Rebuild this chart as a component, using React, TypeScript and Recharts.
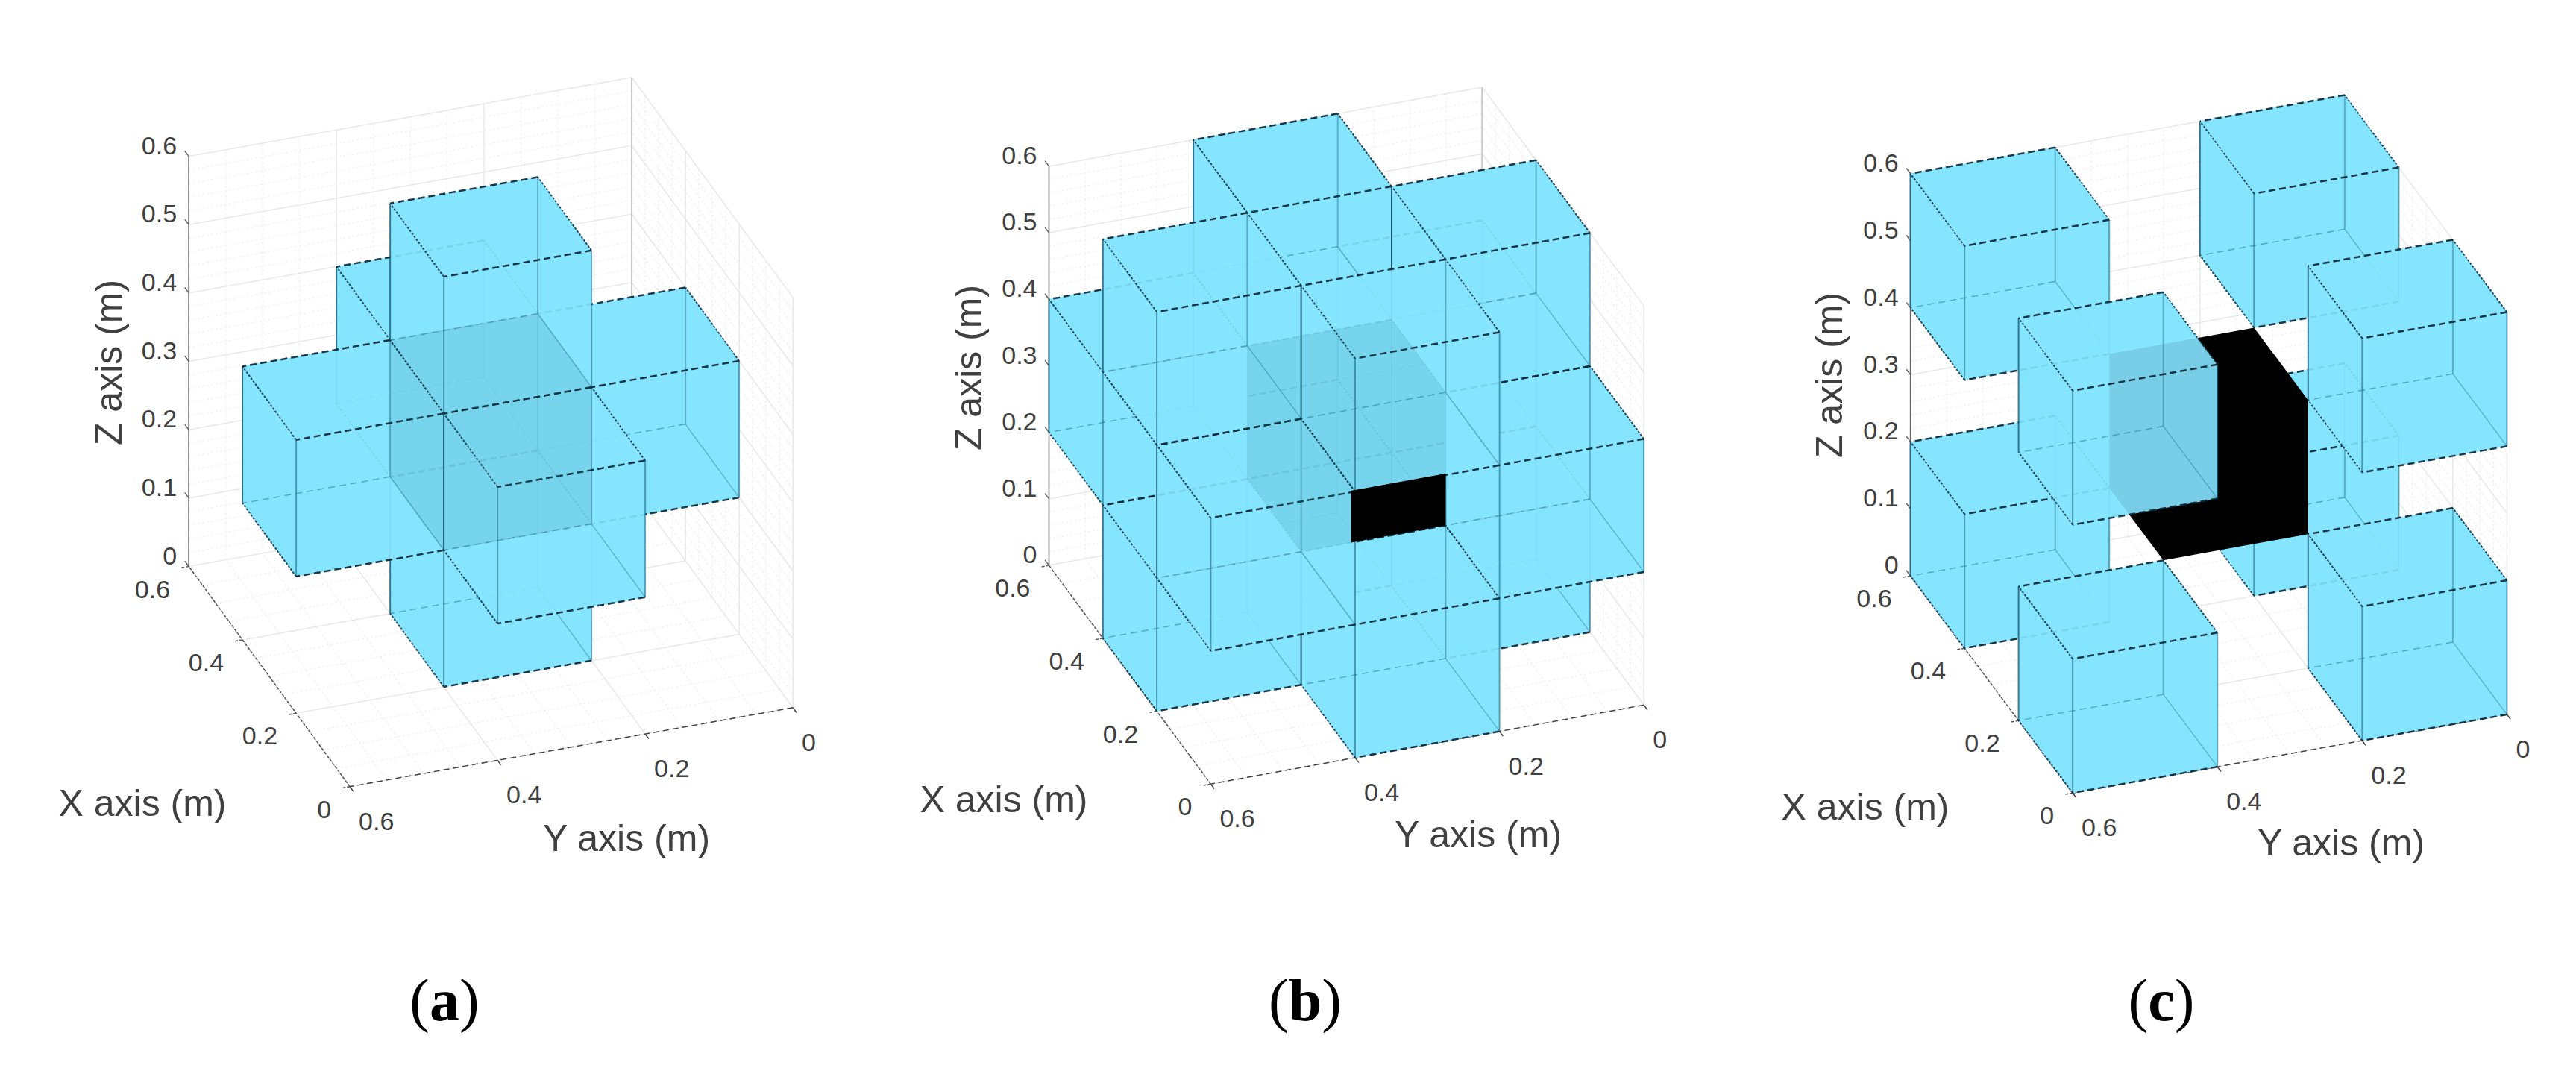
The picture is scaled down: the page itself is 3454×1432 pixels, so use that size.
import { ComposedChart, Line, XAxis, YAxis, LabelList } from 'recharts';

type Vec3 = [number, number, number];

// lower corner of each 0.2 m cube, metres
const CROSS_VOXELS: Vec3[] = [
  [0.2, 0.2, 0], [0.4, 0.2, 0.2], [0.2, 0.4, 0.2], [0.2, 0, 0.2], [0, 0.2, 0.2], [0.2, 0.2, 0.4],
];
const EDGE_VOXELS: Vec3[] = [
  [0.4, 0.2, 0], [0.2, 0.4, 0], [0.2, 0, 0], [0, 0.2, 0],
  [0.4, 0.4, 0.2], [0.4, 0, 0.2], [0, 0.4, 0.2], [0, 0, 0.2],
  [0.4, 0.2, 0.4], [0.2, 0.4, 0.4], [0.2, 0, 0.4], [0, 0.2, 0.4],
];
const CORNER_BACK_VOXELS: Vec3[] = [[0.4, 0, 0], [0.4, 0.4, 0], [0.4, 0, 0.4], [0.4, 0.4, 0.4]];
const CORNER_FRONT_VOXELS: Vec3[] = [[0, 0, 0], [0, 0.4, 0], [0, 0, 0.4], [0, 0.4, 0.4]];

const CENTER_VOXEL: Vec3 = [0.2, 0.2, 0.2];
const B_BLACK_FACE: Vec3[] = [[0.2, 0.2, 0.2], [0.2, 0.2, 0.278], [0.2, 0.331, 0.278], [0.2, 0.331, 0.2]];

const Z_TICKS = [0, 0.1, 0.2, 0.3, 0.4, 0.5, 0.6];
const Z_TICK_LABELS = ['0', '0.1', '0.2', '0.3', '0.4', '0.5', '0.6'];
const XY_TICKS = [0, 0.2, 0.4, 0.6];
const XY_TICK_LABELS = ['0', '0.2', '0.4', '0.6'];

const CYAN = '#85e4ff';
const TEXT = '#404040';
const SANS = '"Liberation Sans", Arial, sans-serif';

const W = 3454;
const H = 1432;

type View = {
  origin: [number, number];
  ex: [number, number];
  ey: [number, number];
  ez: number;
  titles: { x: [number, number]; y: [number, number]; z: [number, number] };
  letter: string;
  letterX: number;
};

const VIEW_A: View = {
  origin: [1063.1, 948.8], ex: [-360, -492], ey: [-990, 176.5], ez: -916.5,
  titles: { x: [191, 1077], y: [840, 1124], z: [146, 486] }, letter: 'a', letterX: 596,
};
const VIEW_B: View = {
  origin: [2204.2, 945.3], ex: [-361.5, -488.5], ey: [-968, 176.5], ez: -892,
  titles: { x: [1346, 1072], y: [1982, 1119], z: [1299, 493] }, letter: 'b', letterX: 1750,
};
const VIEW_C: View = {
  origin: [3361.4, 957.9], ex: [-362.5, -485], ey: [-970.5, 175.5], ez: -899,
  titles: { x: [2501, 1082], y: [3139, 1130], z: [2453, 503] }, letter: 'c', letterX: 2898,
};

const project = (v: View, [x, y, z]: Vec3) => ({
  px: v.origin[0] + x * v.ex[0] + y * v.ey[0],
  py: v.origin[1] + x * v.ex[1] + y * v.ey[1] + z * v.ez,
});

const hexOf = ([x, y, z]: Vec3, s = 0.2): Vec3[] => [
  [x + s, y + s, z + s], [x + s, y, z + s], [x, y, z + s], [x, y, z], [x, y + s, z], [x + s, y + s, z],
];

// segments joined into one series, broken with null rows
const segments = (v: View, pairs: [Vec3, Vec3][]) =>
  pairs.flatMap(([a, b]) => {
    const p = project(v, a);
    const q = project(v, b);
    return [p, q, { px: q.px, py: null as unknown as number }];
  });

// dots paint above every curve, so shapes that must stack in order all go through the dot of the first row
const polyDot = (fill: string, opacity: number) => (p: any) =>
  p.index === 0 ? (
    <polygon
      key="poly"
      points={p.points.map((q: any) => `${q.x},${q.y}`).join(' ')}
      fill={fill}
      fillOpacity={opacity}
      stroke="none"
    />
  ) : (
    <g key={p.index} />
  );

const pathDot = (stroke: string, width: number, dash?: string, opacity = 1) => (p: any) => {
  if (p.index !== 0) return <g key={p.index} />;
  let d = '';
  let pen = false;
  p.points.forEach((q: any) => {
    if (q.y == null) {
      pen = false;
      return;
    }
    d += `${pen ? 'L' : 'M'}${q.x} ${q.y}`;
    pen = true;
  });
  return (
    <path key="edges" d={d} fill="none" stroke={stroke} strokeWidth={width} strokeDasharray={dash} strokeOpacity={opacity} />
  );
};

const polygon = (key: string, v: View, verts: Vec3[], fill: string, opacity = 1) => (
  <Line
    key={key}
    data={verts.map((c) => project(v, c))}
    dataKey="py"
    stroke="none"
    dot={polyDot(fill, opacity)}
    activeDot={false}
    isAnimationActive={false}
  />
);

const lines = (
  key: string,
  v: View,
  pairs: [Vec3, Vec3][],
  stroke: string,
  width: number,
  dash?: string,
  opacity = 1,
) => (
  <Line
    key={key}
    data={segments(v, pairs)}
    dataKey="py"
    stroke="none"
    dot={pathDot(stroke, width, dash, opacity)}
    activeDot={false}
    isAnimationActive={false}
  />
);

type TextRow = { px: number; py: number; text: string };

const texts = (
  key: string,
  rows: TextRow[],
  size: number,
  anchor: 'start' | 'middle' | 'end',
  angle = 0,
) => (
  <Line key={key} data={rows} dataKey="py" stroke="none" dot={false} activeDot={false} isAnimationActive={false}>
    <LabelList
      dataKey="text"
      content={(p: any) => (
        <text
          x={p.x}
          y={p.y}
          fontSize={size}
          fontFamily={SANS}
          fill={TEXT}
          textAnchor={anchor}
          dominantBaseline="central"
          transform={angle ? `rotate(${angle} ${p.x} ${p.y})` : undefined}
        >
          {p.value}
        </text>
      )}
    />
  </Line>
);

// one voxel: veil over what lies behind it, then its own edges
const voxel = (key: string, v: View, [x, y, z]: Vec3) => {
  const s = 0.2;
  const X = x + s;
  const Y = y + s;
  const Z = z + s;
  const hiddenY: [Vec3, Vec3][] = [[[X, y, z], [X, Y, z]]];
  const hiddenX: [Vec3, Vec3][] = [[[x, y, z], [X, y, z]]];
  const dashY: [Vec3, Vec3][] = [[[x, y, Z], [x, Y, Z]], [[X, y, Z], [X, Y, Z]], [[x, y, z], [x, Y, z]]];
  const dashX: [Vec3, Vec3][] = [[[x, y, Z], [X, y, Z]], [[x, Y, Z], [X, Y, Z]], [[x, Y, z], [X, Y, z]]];
  return [
    polygon(`${key}-veil`, v, hexOf([x, y, z]), CYAN, 0.9),
    lines(`${key}-hy`, v, hiddenY, '#1f6f8c', 1.5, '9 6', 0.5),
    lines(`${key}-hx`, v, hiddenX, '#1f6f8c', 1.5, undefined, 0.4),
    lines(`${key}-vb`, v, [[[X, y, z], [X, y, Z]]], '#1f6f8c', 2, undefined, 0.45),
    lines(`${key}-vm`, v, [[[x, Y, z], [x, Y, Z]], [[x, y, z], [x, y, Z]]], '#0f5f7c', 2, undefined, 0.55),
    lines(`${key}-vl`, v, [[[X, Y, z], [X, Y, Z]]], '#0a4560', 2, undefined, 0.7),
    lines(`${key}-dx`, v, dashX, '#0e2f3f', 2, '3 2', 0.85),
    lines(`${key}-dy`, v, dashY, '#0b2430', 2.5, '9 5', 0.9),
  ];
};

// painted far to near: the camera sits at low x, high y, high z
const stack = (key: string, v: View, vox: Vec3[]) =>
  [...vox]
    .sort((a, b) => -a[0] + a[1] + a[2] - (-b[0] + b[1] + b[2]))
    .flatMap((c) => voxel(`${key}-${c.join('_')}`, v, c));

const box = (v: View) => {
  const major: [Vec3, Vec3][] = [];
  const minor: [Vec3, Vec3][] = [];
  for (let i = 0; i <= 30; i++) {
    const z = i * 0.02;
    const list = i % 5 === 0 ? major : minor;
    list.push([[0.6, 0, z], [0.6, 0.6, z]], [[0, 0, z], [0.6, 0, z]]);
  }
  for (let i = 0; i <= 12; i++) {
    const t = i * 0.05;
    const list = i % 4 === 0 ? major : minor;
    list.push([[t, 0, 0], [t, 0, 0.6]], [[0, t, 0], [0.6, t, 0]]);
    list.push([[0.6, t, 0], [0.6, t, 0.6]], [[t, 0, 0], [t, 0.6, 0]]);
  }
  const zTicks: [Vec3, Vec3][] = Z_TICKS.map((t) => [[0.6, 0.6, t], [0.615, 0.6, t]]);
  const xTicks: [Vec3, Vec3][] = XY_TICKS.map((t) => [[t, 0.6, 0], [t, 0.612, 0]]);
  const yTicks: [Vec3, Vec3][] = XY_TICKS.map((t) => [[0, t, 0], [-0.014, t, 0]]);
  const k = v.letter;
  return [
    lines(`${k}-minor`, v, minor, '#f2f2f2', 1.5, '3 3'),
    lines(`${k}-major`, v, major, '#e8e8e8', 1.5),
    lines(`${k}-corner`, v, [[[0.6, 0, 0], [0.6, 0, 0.6]]], '#c8c8c8', 2),
    lines(`${k}-zaxis`, v, [[[0.6, 0.6, 0], [0.6, 0.6, 0.6]], ...zTicks], '#666666', 1.5),
    lines(`${k}-xaxis`, v, [[[0, 0.6, 0], [0.6, 0.6, 0]], ...xTicks], '#555555', 1.5, '4 2'),
    lines(`${k}-yaxis`, v, [[[0, 0, 0], [0, 0.6, 0]], ...yTicks], '#444444', 1.5, '8 5'),
  ];
};

const axisText = (v: View) => {
  const k = v.letter;
  const zRows = Z_TICKS.map((t, i) => {
    const p = project(v, [0.6, 0.6, t]);
    return { px: p.px - 16, py: p.py - 15, text: Z_TICK_LABELS[i] };
  });
  const xRows = XY_TICKS.map((t, i) => {
    const p = project(v, [t, 0.6, 0]);
    return { px: p.px - 25, py: p.py + 30, text: XY_TICK_LABELS[i] };
  });
  const yRows = XY_TICKS.map((t, i) => {
    const p = project(v, [0, t, 0]);
    return { px: p.px + 12, py: p.py + 46, text: XY_TICK_LABELS[i] };
  });
  const at = ([px, py]: [number, number], text: string) => [{ px, py, text }];
  return [
    texts(`${k}-tz`, zRows, 34, 'end'),
    texts(`${k}-tx`, xRows, 34, 'end'),
    texts(`${k}-ty`, yRows, 34, 'start'),
    texts(`${k}-lx`, at(v.titles.x, 'X axis (m)'), 50, 'middle'),
    texts(`${k}-ly`, at(v.titles.y, 'Y axis (m)'), 50, 'middle'),
    texts(`${k}-lz`, at(v.titles.z, 'Z axis (m)'), 50, 'middle', -90),
  ];
};

const fills = (key: string, v: View, vox: Vec3[]) =>
  vox.map((c, i) => polygon(`${key}-${i}`, v, hexOf(c), CYAN));

const letterRow = (v: View) => (
  <Line
    key={`${v.letter}-letter`}
    data={[{ px: v.letterX, py: 1368, text: v.letter }]}
    dataKey="py"
    stroke="none"
    dot={false}
    activeDot={false}
    isAnimationActive={false}
  >
    <LabelList
      dataKey="text"
      content={(p: any) => (
        <text x={p.x} y={p.y} fontSize={80} fontFamily='"Liberation Serif", serif' fill="#000" textAnchor="middle">
          (<tspan fontWeight="bold">{p.value}</tspan>)
        </text>
      )}
    />
  </Line>
);

export default function App() {
  const cornerAll = [...CORNER_BACK_VOXELS, ...CORNER_FRONT_VOXELS];
  return (
    <div style={{ position: 'absolute', left: 0, top: 0, width: W, height: H, background: '#fff', overflow: 'hidden' }}>
      <ComposedChart width={W} height={H} margin={{ top: 0, right: 0, bottom: 0, left: 0 }} data={[]}>
        <XAxis type="number" dataKey="px" domain={[0, W]} hide />
        <YAxis type="number" domain={[0, H]} reversed hide />

        {box(VIEW_A)}
        {fills('a-fill', VIEW_A, [...CROSS_VOXELS, CENTER_VOXEL])}
        {stack('a-stack', VIEW_A, CROSS_VOXELS)}
        {polygon('a-shade', VIEW_A, hexOf(CENTER_VOXEL), '#217281', 0.15)}
        {axisText(VIEW_A)}
        {letterRow(VIEW_A)}

        {box(VIEW_B)}
        {fills('b-fill', VIEW_B, [...EDGE_VOXELS, CENTER_VOXEL])}
        {stack('b-stack', VIEW_B, EDGE_VOXELS)}
        {polygon('b-shade', VIEW_B, hexOf(CENTER_VOXEL), '#217281', 0.15)}
        {polygon('b-black', VIEW_B, B_BLACK_FACE, '#000')}
        {axisText(VIEW_B)}
        {letterRow(VIEW_B)}

        {box(VIEW_C)}
        {fills('c-fill', VIEW_C, cornerAll)}
        {stack('c-back', VIEW_C, CORNER_BACK_VOXELS)}
        {polygon('c-black', VIEW_C, hexOf(CENTER_VOXEL), '#000')}
        {stack('c-front', VIEW_C, CORNER_FRONT_VOXELS)}
        {axisText(VIEW_C)}
        {letterRow(VIEW_C)}
      </ComposedChart>
    </div>
  );
}
